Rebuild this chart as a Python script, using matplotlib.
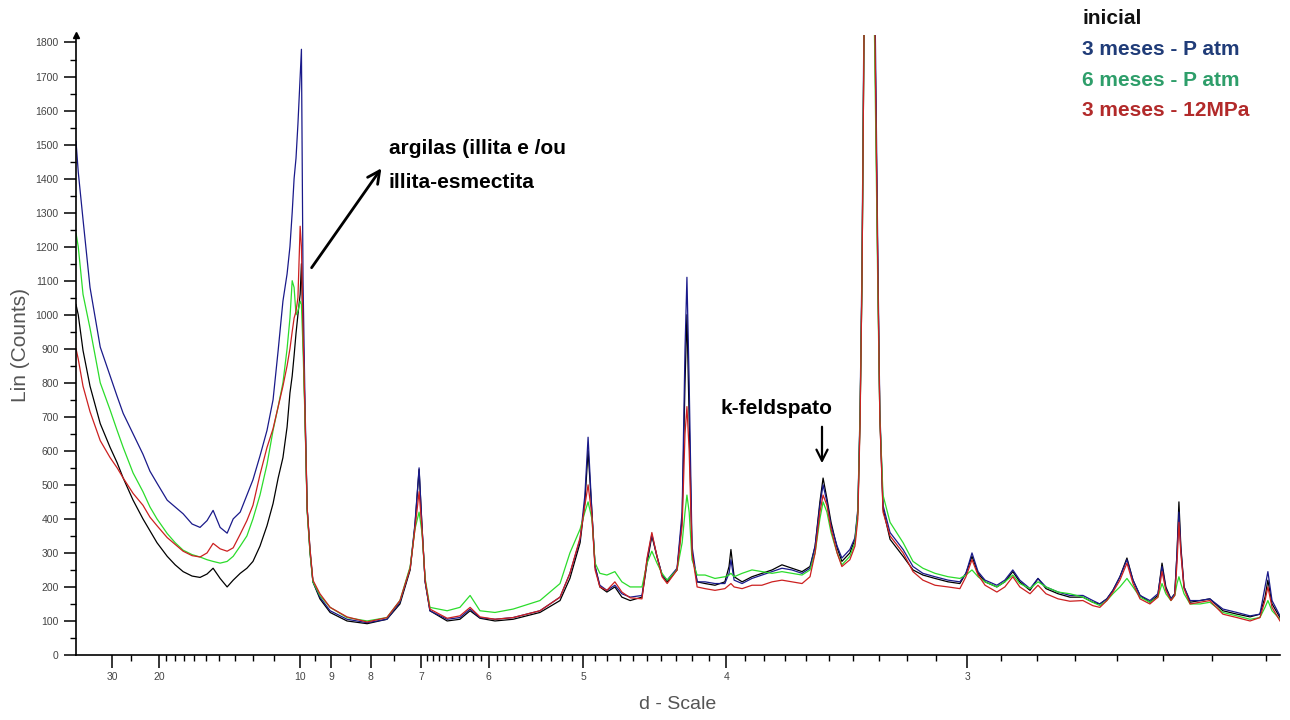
import numpy as np
import matplotlib
matplotlib.use("Agg")
import matplotlib.pyplot as plt
from matplotlib.ticker import FixedLocator, NullFormatter, MultipleLocator

plt.rcParams["font.family"] = ["Liberation Sans", "DejaVu Sans"]

# === diffractogram data (2-theta in degrees, Cu K-alpha) ===
two_theta = [
    1.81, 1.88, 2.03, 2.25, 2.57, 2.88, 3.10, 3.29, 3.60, 3.91, 4.13, 4.35, 4.67, 4.92,
    5.17, 5.45, 5.70, 5.92, 6.11, 6.33, 6.55, 6.74, 6.96, 7.17, 7.36, 7.58, 7.80, 7.99,
    8.15, 8.30, 8.43, 8.52, 8.59, 8.65, 8.71, 8.77, 8.84, 8.88, 8.93, 8.99, 9.06, 9.15,
    9.24, 9.46, 9.78, 10.31, 10.94, 11.56, 11.97, 12.29, 12.44, 12.57, 12.66, 12.76, 12.91,
    13.45, 13.85, 14.17, 14.48, 14.95, 15.52, 16.36, 16.99, 17.30, 17.62, 17.77, 17.87,
    17.99, 18.09, 18.24, 18.46, 18.71, 18.93, 19.19, 19.56, 19.72, 19.87, 20.03, 20.19,
    20.35, 20.66, 20.82, 20.91, 20.97, 21.04, 21.13, 21.29, 21.54, 21.85, 22.16, 22.29,
    22.35, 22.45, 22.70, 23.01, 23.32, 23.64, 23.95, 24.26, 24.58, 24.83, 24.99, 25.14,
    25.24, 25.36, 25.49, 25.68, 25.83, 26.08, 26.24, 26.33, 26.40, 26.46, 26.52, 26.59,
    26.68, 26.77, 26.87, 26.96, 27.02, 27.12, 27.34, 27.75, 28.06, 28.37, 28.75, 29.16,
    29.53, 29.72, 29.91, 30.10, 30.32, 30.69, 30.94, 31.19, 31.41, 31.73, 31.98, 32.23,
    32.61, 32.98, 33.39, 33.70, 33.92, 34.14, 34.33, 34.55, 34.77, 34.96, 35.18, 35.49,
    35.74, 35.87, 35.99, 36.15, 36.27, 36.34, 36.40, 36.46, 36.56, 36.75, 37.06, 37.37,
    37.78, 38.22, 38.63, 38.94, 39.10, 39.19, 39.32, 39.57,
]

inicial = [
    1030, 1000, 895, 790, 680, 610, 565, 520, 455, 400, 365, 330, 290, 265,
    245, 232, 228, 238, 255, 225, 200, 220, 240, 255, 275, 320, 380, 445,
    520, 580, 670, 770, 820, 880, 945, 1000, 1060, 1150, 950, 700, 430, 300,
    215, 165, 125, 100, 92, 105, 150, 250, 380, 545, 380, 215, 130,
    100, 105, 130, 108, 100, 105, 125, 160, 225, 330, 450, 600,
    420, 260, 200, 185, 200, 170, 160, 170, 270, 350, 290, 235,
    215, 250, 400, 800, 1000, 700, 300, 215, 210, 205, 215, 260,
    310, 230, 215, 230, 240, 250, 265, 255, 245, 260, 320, 450,
    520, 460, 390, 315, 275, 300, 340, 420, 700, 1100, 1800, 2500,
    2900, 2500, 1800, 1100, 700, 430, 340, 290, 250, 235, 225, 215,
    210, 240, 290, 240, 215, 200, 215, 245, 215, 190, 225, 195,
    180, 170, 170, 155, 150, 165, 190, 230, 285, 220, 175, 155,
    175, 270, 200, 165, 180, 300, 450, 320, 200, 155, 160, 165,
    130, 120, 112, 120, 170, 220, 150, 110,
]

p_atm_3m = [
    1510, 1420, 1280, 1080, 905, 820, 760, 710, 650, 590, 540, 505, 455, 435,
    415, 385, 375, 395, 425, 375, 358, 400, 420, 470, 515, 585, 660, 750,
    895, 1040, 1120, 1200, 1300, 1400, 1460, 1560, 1700, 1780, 1100, 750, 430, 310,
    215, 170, 130, 105, 95, 105, 155, 255, 385, 550, 380, 215, 130,
    105, 110, 135, 110, 105, 110, 130, 170, 240, 340, 470, 640,
    420, 260, 205, 190, 205, 180, 170, 175, 280, 355, 290, 235,
    220, 255, 420, 900, 1110, 800, 320, 215, 215, 210, 210, 240,
    280, 220, 210, 225, 235, 245, 255, 250, 240, 255, 320, 440,
    500, 450, 380, 320, 285, 310, 345, 430, 720, 1150, 1850, 2700,
    3100, 2700, 1900, 1150, 720, 440, 360, 310, 260, 240, 230, 220,
    215, 240, 300, 245, 220, 205, 220, 250, 220, 195, 225, 200,
    185, 175, 175, 160, 150, 165, 190, 230, 280, 220, 175, 160,
    180, 260, 195, 165, 180, 300, 420, 310, 200, 160, 160, 165,
    135, 125, 115, 120, 200, 245, 160, 115,
]

p_atm_6m = [
    1240, 1200, 1060, 960, 800, 720, 660, 610, 535, 480, 435, 400, 357, 330,
    308, 295, 288, 280, 275, 270, 275, 290, 320, 350, 400, 470, 560, 660,
    730, 800, 900, 990, 1100, 1080, 1000, 1010, 1040, 1030, 900, 700, 420, 300,
    215, 175, 140, 110, 100, 110, 160, 260, 370, 420, 360, 225, 140,
    130, 140, 175, 130, 125, 135, 160, 210, 300, 370, 420, 450,
    400, 270, 240, 235, 245, 215, 200, 200, 270, 305, 270, 240,
    220, 250, 330, 420, 470, 420, 280, 235, 235, 225, 230, 235,
    240, 230, 240, 250, 245, 240, 245, 240, 235, 250, 300, 400,
    450, 420, 360, 300, 265, 290, 330, 420, 700, 1100, 1800, 2400,
    2700, 2400, 1700, 1050, 700, 470, 390, 330, 275, 255, 240, 230,
    225, 235, 250, 230, 215, 200, 215, 235, 210, 195, 215, 200,
    185, 180, 170, 155, 145, 160, 180, 200, 225, 200, 170, 155,
    170, 210, 180, 160, 175, 210, 230, 210, 180, 150, 150, 155,
    125, 115, 105, 110, 140, 160, 130, 105,
]

mpa_12_3m = [
    900, 870, 790, 715, 630, 580, 550, 520, 475, 440, 405, 380, 345, 325,
    305, 292, 288, 300, 328, 312, 305, 315, 355, 395, 440, 530, 610, 665,
    730, 790, 850, 900, 950, 990, 1010, 1050, 1260, 1200, 950, 720, 430, 310,
    220, 180, 140, 112, 97, 110, 160, 255, 370, 480, 370, 220, 135,
    108, 115, 140, 112, 105, 110, 130, 170, 240, 345, 440, 500,
    410, 250, 200, 190, 215, 185, 168, 165, 285, 360, 290, 230,
    210, 250, 380, 650, 730, 600, 300, 200, 195, 190, 195, 205,
    210, 200, 195, 205, 205, 215, 220, 215, 210, 230, 300, 420,
    470, 440, 370, 300, 260, 280, 320, 400, 680, 1100, 1800, 2500,
    2900, 2500, 1800, 1100, 700, 420, 350, 300, 245, 220, 205, 200,
    195, 230, 280, 235, 205, 185, 200, 230, 200, 180, 205, 180,
    165, 158, 160, 145, 140, 160, 185, 220, 270, 210, 165, 150,
    170, 245, 190, 160, 175, 270, 390, 300, 195, 150, 155, 160,
    120, 110, 100, 110, 160, 200, 140, 100,
]

series = [
    ("inicial", inicial, "#000000"),
    ("3 meses - P atm", p_atm_3m, "#1a1a8a"),
    ("6 meses - P atm", p_atm_6m, "#2bdc2b"),
    ("3 meses - 12MPa", mpa_12_3m, "#cc2020"),
]
legend_colors = ["#111111", "#203c78", "#2e9e6a", "#b22a2a"]

# d-scale tick positions (Angstrom)
d_major = [30, 20, 10, 9, 8, 7, 6, 5, 4, 3]
d_minor = ([25] + list(range(19, 10, -1)) + [9.5, 8.5, 7.5]
           + [round(6 + 0.1 * i, 1) for i in range(1, 10)]
           + [round(5 + 0.1 * i, 1) for i in range(1, 10)]
           + [round(4 + 0.1 * i, 1) for i in range(1, 10)]
           + [round(3 + 0.1 * i, 1) for i in range(1, 10)]
           + [2.9, 2.8, 2.7, 2.6, 2.5, 2.4, 2.3])

WAVELENGTH = 1.5406


def d_to_2theta(d):
    return np.degrees(2 * np.arcsin(WAVELENGTH / (2 * np.asarray(d, dtype=float))))


# === plot ===
fig = plt.figure(figsize=(12.9, 7.2), dpi=100)
ax = fig.add_axes([76 / 1290, 1 - 655 / 720, (1280 - 76) / 1290, (655 - 35) / 720])

for name, vals, color in series:
    ax.plot(two_theta, vals, color=color, lw=0.9, label=name)

ax.set_xlim(1.81, 39.57)
ax.set_ylim(0, 1822)

for side in ("top", "right"):
    ax.spines[side].set_visible(False)
for side in ("left", "bottom"):
    ax.spines[side].set_linewidth(1.2)

ax.xaxis.set_major_locator(FixedLocator(d_to_2theta(d_major)))
ax.set_xticklabels([str(d) for d in d_major])
ax.xaxis.set_minor_locator(FixedLocator(d_to_2theta(d_minor)))
ax.xaxis.set_minor_formatter(NullFormatter())
ax.yaxis.set_major_locator(MultipleLocator(100))
ax.yaxis.set_minor_locator(MultipleLocator(50))

ax.tick_params(axis="both", which="major", direction="out", length=9, width=1.1,
               labelsize=7.5, labelcolor="#444444", color="black")
ax.tick_params(axis="both", which="minor", direction="out", length=4, width=1.0,
               color="black")
ax.tick_params(axis="x", which="major", pad=3)

ax.set_xlabel("d - Scale", fontsize=14, color="#555555", labelpad=10)
ax.set_ylabel("Lin (Counts)", fontsize=15, color="#555555", labelpad=4)

# small arrow head at the top of the y axis
ax.plot([0], [1822], marker="^", color="black", markersize=4,
        transform=ax.get_yaxis_transform(), clip_on=False)

# legend as coloured text lines
for i, ((name, _, _), tc) in enumerate(zip(series, legend_colors)):
    fig.text(1082 / 1290, 1 - (19 + 30.5 * i) / 720, name, color=tc,
             fontsize=15, fontweight="bold", va="center", ha="left")

# annotations
fig.text(389 / 1290, 1 - 149 / 720, "argilas (illita e /ou", fontsize=15,
         fontweight="bold", va="center", ha="left")
fig.text(389 / 1290, 1 - 183 / 720, "illita-esmectita", fontsize=15,
         fontweight="bold", va="center", ha="left")
fig.text(720 / 1290, 1 - 409 / 720, "k-feldspato", fontsize=15,
         fontweight="bold", va="center", ha="left")

ax.annotate("", xy=(383 / 1290, 1 - 166 / 720), xytext=(310 / 1290, 1 - 270 / 720),
            xycoords="figure fraction", textcoords="figure fraction",
            arrowprops=dict(arrowstyle="->", lw=2.0, color="black",
                            mutation_scale=22))
ax.annotate("", xy=(822 / 1290, 1 - 466 / 720), xytext=(822 / 1290, 1 - 424 / 720),
            xycoords="figure fraction", textcoords="figure fraction",
            arrowprops=dict(arrowstyle="->", lw=1.6, color="black",
                            mutation_scale=20))

fig.savefig("out.png", dpi=100)
